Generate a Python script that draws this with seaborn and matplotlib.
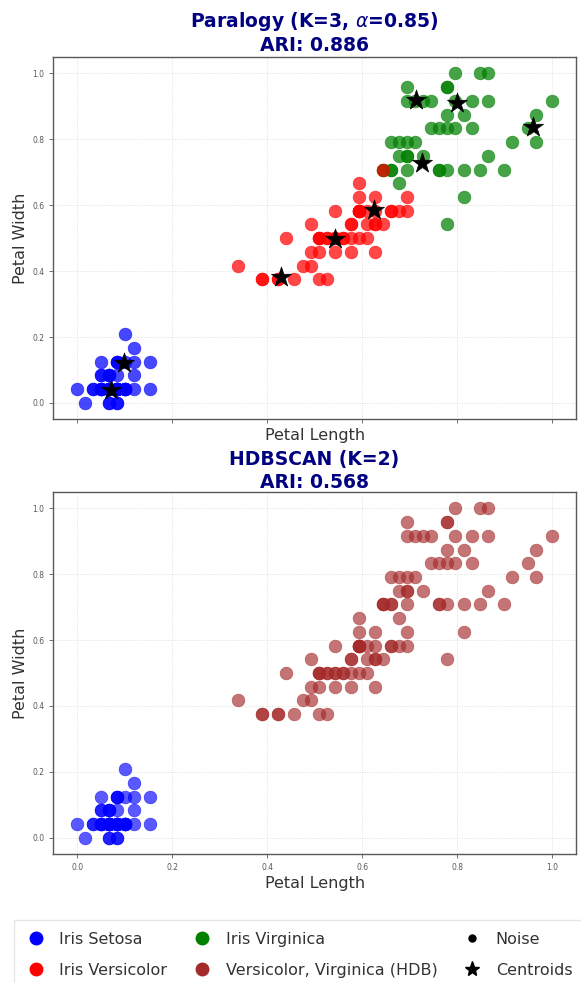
import matplotlib
matplotlib.use("Agg")
import matplotlib.pyplot as plt
from matplotlib.lines import Line2D
import numpy as np
import pandas as pd
import seaborn as sns

# iris petal measurements (cm), samples 1-150
petal_length = [
    1.4, 1.4, 1.3, 1.5, 1.4, 1.7, 1.4, 1.5, 1.4, 1.5,
    1.5, 1.6, 1.4, 1.1, 1.2, 1.5, 1.3, 1.4, 1.7, 1.5,
    1.7, 1.5, 1.0, 1.7, 1.9, 1.6, 1.6, 1.5, 1.4, 1.6,
    1.6, 1.5, 1.5, 1.4, 1.5, 1.2, 1.3, 1.4, 1.3, 1.5,
    1.3, 1.3, 1.3, 1.6, 1.9, 1.4, 1.6, 1.4, 1.5, 1.4,
    4.7, 4.5, 4.9, 4.0, 4.6, 4.5, 4.7, 3.3, 4.6, 3.9,
    3.5, 4.2, 4.0, 4.7, 3.6, 4.4, 4.5, 4.1, 4.5, 3.9,
    4.8, 4.0, 4.9, 4.7, 4.3, 4.4, 4.8, 5.0, 4.5, 3.5,
    3.8, 3.7, 3.9, 5.1, 4.5, 4.5, 4.7, 4.4, 4.1, 4.0,
    4.4, 4.6, 4.0, 3.3, 4.2, 4.2, 4.2, 4.3, 3.0, 4.1,
    6.0, 5.1, 5.9, 5.6, 5.8, 6.6, 4.5, 6.3, 5.8, 6.1,
    5.1, 5.3, 5.5, 5.0, 5.1, 5.3, 5.5, 6.7, 6.9, 5.0,
    5.7, 4.9, 6.7, 4.9, 5.7, 6.0, 4.8, 4.9, 5.6, 5.8,
    6.1, 6.4, 5.6, 5.1, 5.6, 6.1, 5.6, 5.5, 4.8, 5.4,
    5.6, 5.1, 5.1, 5.9, 5.7, 5.2, 5.0, 5.2, 5.4, 5.1,
]
petal_width = [
    0.2, 0.2, 0.2, 0.2, 0.2, 0.4, 0.3, 0.2, 0.2, 0.1,
    0.2, 0.2, 0.1, 0.1, 0.2, 0.4, 0.4, 0.3, 0.3, 0.3,
    0.2, 0.4, 0.2, 0.5, 0.2, 0.2, 0.4, 0.2, 0.2, 0.2,
    0.2, 0.4, 0.1, 0.2, 0.2, 0.2, 0.2, 0.1, 0.2, 0.2,
    0.3, 0.3, 0.2, 0.6, 0.4, 0.3, 0.2, 0.2, 0.2, 0.2,
    1.4, 1.5, 1.5, 1.3, 1.5, 1.3, 1.6, 1.0, 1.3, 1.4,
    1.0, 1.5, 1.0, 1.4, 1.3, 1.4, 1.5, 1.0, 1.5, 1.1,
    1.8, 1.3, 1.5, 1.2, 1.3, 1.4, 1.4, 1.7, 1.5, 1.0,
    1.1, 1.0, 1.2, 1.6, 1.5, 1.6, 1.5, 1.3, 1.3, 1.3,
    1.2, 1.4, 1.2, 1.0, 1.3, 1.2, 1.3, 1.3, 1.1, 1.3,
    2.5, 1.9, 2.1, 1.8, 2.2, 2.1, 1.7, 1.8, 1.8, 2.5,
    2.0, 1.9, 2.1, 2.0, 2.4, 2.3, 1.8, 2.2, 2.3, 1.5,
    2.3, 2.0, 2.0, 1.8, 2.1, 1.8, 1.8, 1.8, 2.1, 1.6,
    1.9, 2.0, 2.2, 1.5, 1.4, 2.3, 2.4, 1.8, 1.8, 2.1,
    2.4, 2.3, 1.9, 2.3, 2.5, 2.3, 1.9, 2.0, 2.3, 1.8,
]

# cluster assignments: 0 setosa, 1 versicolor, 2 virginica
paralogy_cluster = [
    0, 0, 0, 0, 0, 0, 0, 0, 0, 0,
    0, 0, 0, 0, 0, 0, 0, 0, 0, 0,
    0, 0, 0, 0, 0, 0, 0, 0, 0, 0,
    0, 0, 0, 0, 0, 0, 0, 0, 0, 0,
    0, 0, 0, 0, 0, 0, 0, 0, 0, 0,
    1, 1, 1, 1, 1, 1, 1, 1, 1, 1,
    1, 1, 1, 1, 1, 1, 1, 1, 1, 1,
    1, 1, 1, 1, 1, 1, 1, 2, 1, 1,
    1, 1, 1, 1, 1, 1, 1, 1, 1, 1,
    1, 1, 1, 1, 1, 1, 1, 1, 1, 1,
    2, 2, 2, 2, 2, 2, 1, 2, 2, 2,
    2, 2, 2, 2, 2, 2, 2, 2, 2, 1,
    2, 2, 2, 2, 2, 2, 2, 2, 2, 2,
    2, 2, 2, 1, 2, 2, 2, 2, 2, 2,
    2, 2, 2, 2, 2, 2, 2, 2, 2, 2,
]
# HDBSCAN: 0 setosa, 3 merged versicolor + virginica
hdbscan_cluster = [0] * 50 + [3] * 100

# prototype centroids of the paralogy model (normalised space)
centroid_x = [0.072, 0.098, 0.430, 0.542, 0.625, 0.714, 0.799, 0.727, 0.960]
centroid_y = [0.040, 0.122, 0.381, 0.499, 0.586, 0.918, 0.910, 0.727, 0.839]

cluster_colors = {0: "blue", 1: "red", 2: "green", 3: "brown"}
legend_labels = ["Iris Setosa", "Iris Versicolor", "Iris Virginica",
                 "Versicolor, Virginica (HDB)", "Noise", "Centroids"]

pl = np.array(petal_length)
pw = np.array(petal_width)
df = pd.DataFrame({
    "x": (pl - pl.min()) / (pl.max() - pl.min()),
    "y": (pw - pw.min()) / (pw.max() - pw.min()),
    "paralogy": paralogy_cluster,
    "hdbscan": hdbscan_cluster,
})

sns.set_style("whitegrid", {"axes.edgecolor": "0.35", "grid.color": "0.88",
                            "grid.linestyle": ":", "xtick.bottom": True,
                            "ytick.left": True})
plt.rcParams["font.family"] = ["DejaVu Sans"]

fig, axes = plt.subplots(2, 1, figsize=(5.81, 9.83), dpi=100, sharex=True)
fig.subplots_adjust(left=0.092, right=0.991, top=0.942, bottom=0.131, hspace=0.2)

ax = axes[0]
for c in [0, 2, 1]:
    sub = df[df["paralogy"] == c]
    sns.scatterplot(data=sub, x="x", y="y", color=cluster_colors[c], s=85,
                    alpha=0.72, edgecolor=cluster_colors[c], linewidth=0.4,
                    legend=False, ax=ax)
sns.scatterplot(x=centroid_x, y=centroid_y, marker="*", color="black", s=230,
                edgecolor="black", linewidth=0.5, legend=False, ax=ax)
ax.set_title("Paralogy (K=3, $\\alpha$=0.85)\nARI: 0.886", fontsize=13.5,
             fontweight="bold", color="navy", pad=4, linespacing=1.22)

ax = axes[1]
for c in [0, 3]:
    sub = df[df["hdbscan"] == c]
    sns.scatterplot(data=sub, x="x", y="y", color=cluster_colors[c], s=85,
                    alpha=0.65, edgecolor=cluster_colors[c], linewidth=0.4,
                    legend=False, ax=ax)
ax.set_title("HDBSCAN (K=2)\nARI: 0.568", fontsize=13.5, fontweight="bold",
             color="navy", pad=3, linespacing=1.22)

for ax in axes:
    ax.set_xlabel("Petal Length", fontsize=11.5, color="0.2", labelpad=3)
    ax.set_ylabel("Petal Width", fontsize=11.5, color="0.2", labelpad=3)
    ax.xaxis.label.set_visible(True)
    ax.set_xticks([0.0, 0.2, 0.4, 0.6, 0.8, 1.0])
    ax.set_yticks([0.0, 0.2, 0.4, 0.6, 0.8, 1.0])
    ax.tick_params(labelsize=5.5, labelcolor="0.35", length=3, width=0.6, color="0.35")
    ax.grid(True, linestyle=":", linewidth=0.6, color="0.85")
    for sp in ax.spines.values():
        sp.set_linewidth(1.0)
axes[0].tick_params(labelbottom=False)

handles = [
    Line2D([], [], marker="o", ls="", color="blue", markersize=9),
    Line2D([], [], marker="o", ls="", color="red", markersize=9),
    Line2D([], [], marker="o", ls="", color="green", markersize=9),
    Line2D([], [], marker="o", ls="", color="brown", markersize=9),
    Line2D([], [], marker="o", ls="", color="black", markersize=5),
    Line2D([], [], marker="*", ls="", color="black", markersize=11),
]
leg = fig.legend(handles, legend_labels, loc="upper center", ncol=3,
                 bbox_to_anchor=(0.515, 1 - 912 / 983), fontsize=11.5,
                 frameon=True, fancybox=False, edgecolor="0.88",
                 columnspacing=1.55, handletextpad=0.9, labelspacing=1.0,
                 borderpad=0.75, handlelength=1.2)
for t in leg.get_texts():
    t.set_color("0.2")

fig.savefig("out.png", dpi=100)
